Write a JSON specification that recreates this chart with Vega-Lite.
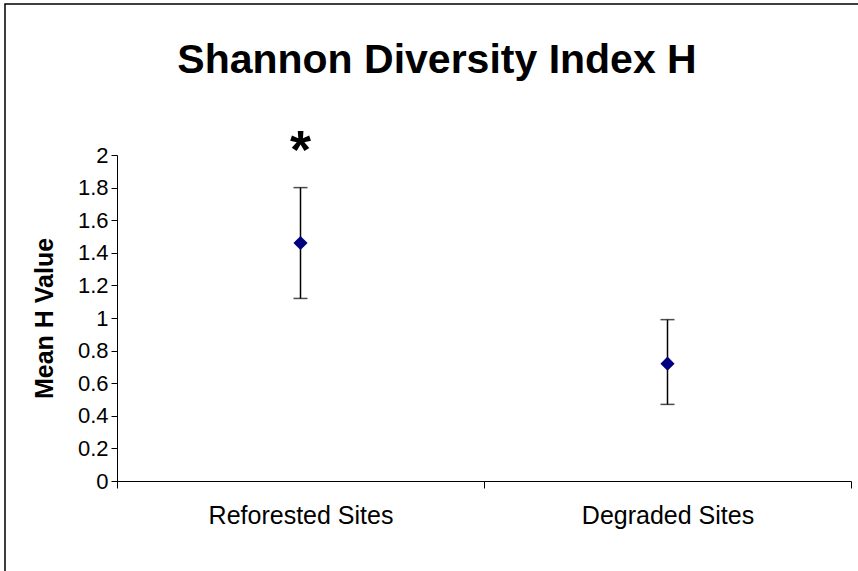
{
  "$schema": "https://vega.github.io/schema/vega-lite/v6.json",
  "autosize": "none",
  "padding": {"left": 5, "top": 4, "right": -3, "bottom": -3},
  "width": 856,
  "height": 570,
  "background": "white",
  "title": {
    "text": "Shannon Diversity Index H",
    "orient": "top",
    "anchor": "middle",
    "frame": "group",
    "font": "Liberation Sans",
    "fontSize": 41,
    "fontWeight": "bold",
    "color": "black",
    "baseline": "alphabetic",
    "offset": -110,
    "dx": 4
  },
  "data": {
    "values": [
      {"site": "Reforested Sites", "mean": 1.46, "lower": 1.12, "upper": 1.80, "sig": "*"},
      {"site": "Degraded Sites", "mean": 0.72, "lower": 0.47, "upper": 0.99, "sig": ""}
    ]
  },
  "encoding": {
    "x": {
      "field": "site",
      "type": "nominal",
      "sort": null,
      "scale": {"range": [112, 846], "paddingInner": 0, "paddingOuter": 0},
      "axis": {
        "title": null,
        "offset": -93,
        "labelAngle": 0,
        "labelFont": "Liberation Sans",
        "labelFontSize": 25,
        "labelColor": "black",
        "labelPadding": 15,
        "labelLimit": 400,
        "tickBand": "extent",
        "tickSize": 7,
        "tickColor": "black",
        "domainColor": "black",
        "grid": false
      }
    }
  },
  "layer": [
    {
      "mark": {"type": "rule", "color": "black", "strokeWidth": 1.5},
      "encoding": {
        "y": {
          "field": "lower",
          "type": "quantitative",
          "scale": {"domain": [0, 2], "range": [477, 151], "nice": false, "zero": false},
          "axis": {
            "title": "Mean H Value",
            "titleFont": "Liberation Sans",
            "titleFontSize": 25,
            "titleFontWeight": "bold",
            "titleColor": "black",
            "titlePadding": 20,
            "offset": -112,
            "values": [0, 0.2, 0.4, 0.6, 0.8, 1, 1.2, 1.4, 1.6, 1.8, 2],
            "labelExpr": "format(datum.value, '~g')",
            "labelFont": "Liberation Sans",
            "labelFontSize": 22,
            "labelColor": "black",
            "labelPadding": 3,
            "tickSize": 6,
            "tickColor": "black",
            "domainColor": "black",
            "grid": false
          }
        },
        "y2": {"field": "upper"}
      }
    },
    {
      "mark": {"type": "tick", "color": "black", "size": 14, "thickness": 1.5, "orient": "horizontal"},
      "encoding": {"y": {"field": "upper", "type": "quantitative"}}
    },
    {
      "mark": {"type": "tick", "color": "black", "size": 14, "thickness": 1.5, "orient": "horizontal"},
      "encoding": {"y": {"field": "lower", "type": "quantitative"}}
    },
    {
      "mark": {"type": "point", "shape": "diamond", "filled": true, "color": "#000080", "size": 200, "opacity": 1},
      "encoding": {"y": {"field": "mean", "type": "quantitative"}}
    },
    {
      "transform": [{"filter": "datum.sig != ''"}],
      "mark": {"type": "text", "font": "Liberation Sans", "fontSize": 54, "fontWeight": "bold", "color": "black", "baseline": "middle", "dy": -36},
      "encoding": {
        "y": {"field": "upper", "type": "quantitative"},
        "text": {"field": "sig"}
      }
    }
  ],
  "config": {
    "view": {"stroke": "black", "strokeWidth": 1.5},
    "axis": {"domainWidth": 1, "tickWidth": 1}
  }
}
